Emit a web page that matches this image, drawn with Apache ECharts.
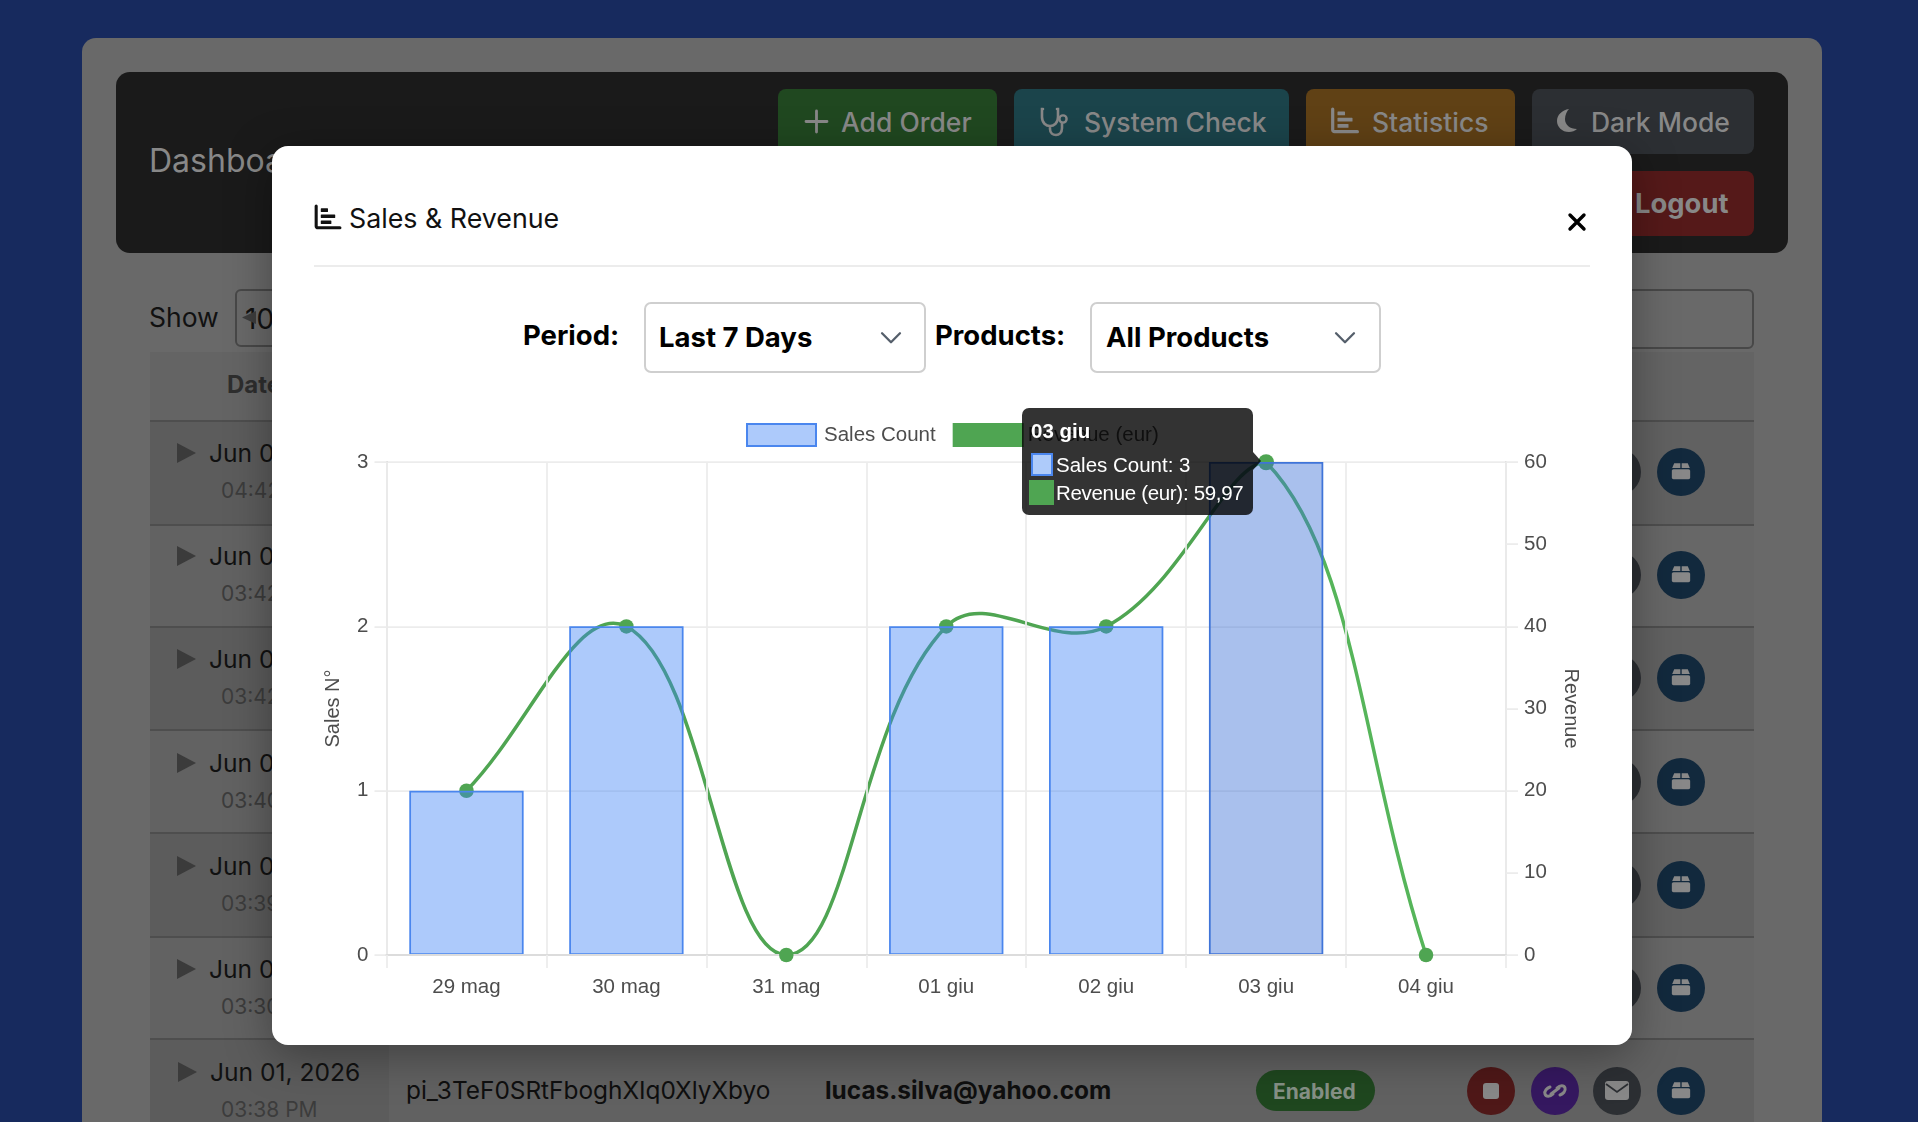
<!DOCTYPE html>
<html lang="en">
<head>
<meta charset="utf-8">
<title>Sales &amp; Revenue</title>
<script src="https://cdn.jsdelivr.net/npm/echarts@6/dist/echarts.min.js"></script>
<style>
  html, body { margin: 0; padding: 0; width: 1918px; height: 1122px; overflow: hidden; background: #172a5e; font-family: Inter, "Noto Sans", sans-serif; }
  .box { position: absolute; box-sizing: border-box; }
  .txt { position: absolute; white-space: nowrap; line-height: 1; transform: translateY(-50%); }
  svg.ic { position: absolute; overflow: visible; }
  #backdrop { position: absolute; inset: 0; overflow: hidden; }
  #modal { position: absolute; left: 272px; top: 146px; width: 1360px; height: 899px; background: #fff; border-radius: 16px; box-shadow: 0 10px 46px rgba(0,0,0,.35); }
  #layer { position: absolute; inset: 0; }
  #chart { position: absolute; left: 292px; top: 400px; width: 1320px; height: 640px; }
</style>
</head>
<body>
<div id="backdrop"></div>
<div id="modal"></div>
<div id="layer"></div>
<div id="chart"></div>
<script>
// Chart data
const categories = ['29 mag', '30 mag', '31 mag', '01 giu', '02 giu', '03 giu', '04 giu'];
const salesCount = [1, 2, 0, 2, 2, 3, 0];
const revenue = [19.99, 39.98, 0, 39.98, 39.98, 59.97, 0];
const hoveredIndex = 5;

// Table rows behind the dialog
const rowTimes = ['04:42 PM', '03:42 PM', '03:42 PM', '03:40 PM', '03:39 PM', '03:30 PM', '03:38 PM'];
const rowDates = ['Jun 01, 2026', 'Jun 01, 2026', 'Jun 01, 2026', 'Jun 01, 2026', 'Jun 01, 2026', 'Jun 01, 2026', 'Jun 01, 2026'];

const backdrop = document.getElementById('backdrop');
const layer = document.getElementById('layer');

function box(parent, x, y, w, h, bg, radius, border) {
  const d = document.createElement('div');
  d.className = 'box';
  d.style.cssText = `left:${x}px;top:${y}px;width:${w}px;height:${h}px;background:${bg};border-radius:${radius || 0}px;${border ? 'border:' + border + ';' : ''}`;
  parent.appendChild(d);
  return d;
}
function text(parent, x, cy, str, size, color, weight) {
  const d = document.createElement('div');
  d.className = 'txt';
  d.textContent = str;
  d.style.cssText = `left:${x}px;top:${cy}px;font-size:${size}px;color:${color};font-weight:${weight || 400};`;
  parent.appendChild(d);
  return d;
}
function icon(parent, x, y, w, h, vb, body) {
  const s = document.createElementNS('http://www.w3.org/2000/svg', 'svg');
  s.setAttribute('class', 'ic');
  s.setAttribute('viewBox', vb);
  s.style.cssText = `left:${x}px;top:${y}px;width:${w}px;height:${h}px;`;
  s.innerHTML = body;
  parent.appendChild(s);
}
const barsIcon = c => `<path d="M1.7 1v21a1.7 1.7 0 0 0 1.7 1.7h23" fill="none" stroke="${c}" stroke-width="3.2" stroke-linecap="round"/><rect x="6.5" y="3.5" width="7.5" height="3.8" rx=".6" fill="${c}"/><rect x="6.5" y="9.8" width="15" height="3.8" rx=".6" fill="${c}"/><rect x="6.5" y="16" width="11" height="3.8" rx=".6" fill="${c}"/>`;
const packageIcon = c => `<path d="M3 9 L6 2 H15 V9 Z M17 2 H26 L29 9 H17 Z" fill="${c}"/><rect x="2.5" y="10.5" width="27" height="15" rx="2.5" fill="${c}"/>`;
const chevron = c => `<path d="M1 1 L9.5 9.5 L18 1" fill="none" stroke="${c}" stroke-width="2.2" stroke-linecap="round" stroke-linejoin="round"/>`;

// Dimmed dashboard
const dimText = '#888888';
box(backdrop, 82, 38, 1740, 1200, '#696969', 14);
box(backdrop, 116, 72, 1672, 181, '#1a1a1a', 14);
text(backdrop, 149, 161, 'Dashboard', 32, dimText);

const buttons = [
  [778, 219, '#204820', 'Add Order', 841],
  [1014, 275, '#1b444b', 'System Check', 1084],
  [1306, 209, '#604115', 'Statistics', 1372],
  [1532, 222, '#2c2f33', 'Dark Mode', 1591]
];
buttons.forEach(b => {
  box(backdrop, b[0], 89, b[1], 65, b[2], 8);
  text(backdrop, b[4], 122, b[3], 26.5, dimText, 500);
});
icon(backdrop, 804, 109, 25, 25, '0 0 25 25', `<path d="M12.5 2V23M2 12.5H23" stroke="${dimText}" stroke-width="2.8" stroke-linecap="round"/>`);
icon(backdrop, 1040, 106, 30, 31, '0 0 30 31', `<path d="M3 3H2V11C2 17 6 20 10 20S18 17 18 11V3H17M10 20V23C10 27 13 29 16 29S22 27 22 22V17" fill="none" stroke="${dimText}" stroke-width="2.6" stroke-linecap="round"/><circle cx="23" cy="13" r="3.6" fill="none" stroke="${dimText}" stroke-width="2.4"/>`);
icon(backdrop, 1331, 108, 28, 26, '0 0 28 26', barsIcon(dimText));
icon(backdrop, 1556, 108, 24, 25, '0 0 24 25', `<path d="M13 1C6 2 1 7 1 13s5 11 12 11c3 0 6-1 8-3C14 21 9 17 9 11c0-4 2-8 4-10Z" fill="${dimText}"/>`);
box(backdrop, 1500, 171, 254, 65, '#551919', 8);
text(backdrop, 1635, 204, 'Logout', 27.4, dimText, 700);

// Table controls
text(backdrop, 149, 317, 'Show', 26.5, '#111');
box(backdrop, 235, 289, 120, 58, 'transparent', 6, '2px solid #484848');
text(backdrop, 245, 319, '10', 28, '#111');
icon(backdrop, 242, 311, 14, 13, '0 0 14 13', '<path d="M0 6.5L14 0V13Z" fill="#3d3d3d"/>');
box(backdrop, 1500, 289, 254, 60, 'transparent', 6, '2px solid #484848');

// Table body
const rowTops = [421, 525, 627, 730, 833, 937, 1039, 1122];
const dateCy = [453, 556, 659, 763, 866, 969, 1072];
const actionCy = [472, 575, 678, 782, 885, 988, 1091];
box(backdrop, 150, 352, 1604, 69, '#646464');
text(backdrop, 227, 385, 'Date', 24, '#2e2e2e', 700);
rowTimes.forEach((time, i) => {
  const top = rowTops[i], h = rowTops[i + 1] - top;
  box(backdrop, 150, top, 1604, h, i % 2 === 0 ? '#616161' : '#676767');
  box(backdrop, 150, top, 239, h, i % 2 === 0 ? '#5c5c5c' : '#626262');
  box(backdrop, 150, top - 1, 1604, 2, '#4e4e4e');
  const shift = i === 6 ? 1 : 0;
  icon(backdrop, 177 + shift, dateCy[i] - 10, 19, 20, '0 0 19 20', '<path d="M0 0L19 10L0 20Z" fill="#3b3b3b"/>');
  text(backdrop, 209 + shift, dateCy[i], rowDates[i], 24.6, '#111');
  text(backdrop, 221, dateCy[i] + 37, time, 21, '#3c3c3c');
  box(backdrop, 1593, actionCy[i] - 24, 48, 48, '#2c2f33', 24);
  box(backdrop, 1657, actionCy[i] - 24, 48, 48, '#12293d', 24);
  icon(backdrop, 1670, actionCy[i] - 10, 22, 19, '0 0 32 28', packageIcon(dimText));
});
text(backdrop, 406, 1090, 'pi_3TeF0SRtFboghXIq0XlyXbyo', 24.4, '#0f0f0f');
text(backdrop, 825, 1090, 'lucas.silva@yahoo.com', 24.4, '#0f0f0f', 700);
box(backdrop, 1256, 1070, 119, 41, '#1f471f', 21);
text(backdrop, 1273, 1091, 'Enabled', 21, '#869186', 700);
box(backdrop, 1467, 1067, 48, 48, '#4f1818', 24);
box(backdrop, 1531, 1067, 48, 48, '#351860', 24);
icon(backdrop, 1482, 1082, 18, 18, '0 0 18 18', `<rect x="1" y="1" width="16" height="16" rx="3" fill="${dimText}"/>`);
icon(backdrop, 1543, 1080, 24, 22, '0 0 24 22', `<path d="M10 14C7 17 3 17 2 14S4 8 7 7M14 8C17 5 21 5 22 8S20 14 17 15M8 14L16 8" fill="none" stroke="${dimText}" stroke-width="3" stroke-linecap="round"/>`);
icon(backdrop, 1605, 1081, 24, 19, '0 0 24 19', `<rect width="24" height="19" rx="3" fill="${dimText}"/><path d="M1 3L12 11L23 3" fill="none" stroke="#2c2f33" stroke-width="1.8"/>`);

// Dialog header and filters
icon(layer, 314, 205, 28, 25, '0 0 28 26', barsIcon('#111'));
text(layer, 349, 218, 'Sales & Revenue', 26.8, '#111');
icon(layer, 1568, 213, 18, 18, '0 0 18 18', '<path d="M2 2L16 16M16 2L2 16" stroke="#000" stroke-width="3.4" stroke-linecap="round"/>');
box(layer, 314, 265, 1276, 2, '#ececec');
text(layer, 523, 336, 'Period:', 27.5, '#000', 700);
box(layer, 644, 302, 282, 71, '#fff', 7, '2.5px solid #cfcfcf');
text(layer, 659, 338, 'Last 7 Days', 27.5, '#000', 700);
icon(layer, 881, 332, 20, 12, '0 0 19 11', chevron('#555f6b'));
text(layer, 935, 336, 'Products:', 27.5, '#000', 700);
box(layer, 1090, 302, 291, 71, '#fff', 7, '2.5px solid #cfcfcf');
text(layer, 1106, 338, 'All Products', 27.5, '#000', 700);
icon(layer, 1335, 332, 20, 12, '0 0 19 11', chevron('#555f6b'));

// Colours of the chart
const barFill = 'rgba(60,128,246,0.42)';
const barFillHover = 'rgba(56,108,214,0.43)';
const barStroke = '#4a86ee';
const barStrokeHover = '#3f74d8';
const lineColor = '#4fa552';
const gridColor = '#ececec';
const axisColor = '#dcdcdc';
const labelColor = '#4d4d4d';
const chartFont = "'Liberation Sans', Helvetica, Arial, sans-serif";
const labelSize = 20.5;

// Cardinal spline through the revenue points, with control points held inside the plot area
const tension = 0.4;
function controlPoints(prev, cur, next, area) {
  const d01 = Math.hypot(cur[0] - prev[0], cur[1] - prev[1]);
  const d12 = Math.hypot(next[0] - cur[0], next[1] - cur[1]);
  const sum = d01 + d12;
  const fa = sum ? tension * d01 / sum : 0;
  const fb = sum ? tension * d12 / sum : 0;
  const clampX = v => Math.min(area.x + area.width, Math.max(area.x, v));
  const clampY = v => Math.min(area.y + area.height, Math.max(area.y, v));
  return {
    before: [clampX(cur[0] - fa * (next[0] - prev[0])), clampY(cur[1] - fa * (next[1] - prev[1]))],
    after: [clampX(cur[0] + fb * (next[0] - prev[0])), clampY(cur[1] + fb * (next[1] - prev[1]))]
  };
}
function renderCurveSegment(params, api) {
  const i = params.dataIndex;
  if (i >= revenue.length - 1) return null;
  const pts = revenue.map((v, k) => api.coord([k, v]));
  const at = k => pts[Math.max(0, Math.min(pts.length - 1, k))];
  const a = controlPoints(at(i - 1), at(i), at(i + 1), params.coordSys);
  const b = controlPoints(at(i), at(i + 1), at(i + 2), params.coordSys);
  return {
    type: 'bezierCurve',
    shape: {
      x1: at(i)[0], y1: at(i)[1],
      cpx1: a.after[0], cpy1: a.after[1],
      cpx2: b.before[0], cpy2: b.before[1],
      x2: at(i + 1)[0], y2: at(i + 1)[1]
    },
    style: { stroke: lineColor, lineWidth: 3.5, fill: 'none' }
  };
}

const formatValue = v => String(v).replace('.', ',');
function tooltipHtml(params) {
  const i = params[0].dataIndex;
  const row = (fill, stroke, label, val, w, h, gap, spacing) =>
    `<div style="display:flex;align-items:center;height:28px;">` +
    `<span style="flex:none;box-sizing:border-box;width:${w}px;height:${h}px;margin-right:${gap}px;background:${fill};border:2px solid ${stroke};"></span>` +
    `<span style="position:relative;top:1px;letter-spacing:${spacing}px;">${label}: ${val}</span></div>`;
  return `<div style="position:relative;box-sizing:border-box;width:231px;height:107px;padding:10px 8px 0 9px;background:rgba(0,0,0,0.8);border-radius:7px;color:#fff;font-family:${chartFont};font-size:20.5px;line-height:1.1;white-space:nowrap;">` +
    `<div style="font-weight:700;height:32px;line-height:26px;">${categories[i]}</div>` +
    row('#aecbfa', '#4a86ee', 'Sales Count', formatValue(salesCount[i]), 22, 23, 3, 0) +
    `<div style="margin-left:-2px;">` + row(lineColor, lineColor, 'Revenue (eur)', formatValue(revenue[i]), 25, 25, 2, -0.32) + `</div>` +
    `<span style="position:absolute;left:231px;top:44px;width:0;height:0;border-left:8px solid rgba(0,0,0,0.8);border-top:9px solid transparent;border-bottom:9px solid transparent;"></span>` +
    `</div>`;
}

const chart = echarts.init(document.getElementById('chart'), null, { renderer: 'canvas' });
chart.setOption({
  animation: false,
  backgroundColor: 'transparent',
  textStyle: { fontFamily: chartFont },
  grid: { left: 94.5, top: 62, width: 1119.5, height: 493, containLabel: false },
  legend: {
    left: 449,
    top: 18,
    itemWidth: 69,
    itemHeight: 22,
    itemGap: 17,
    selectedMode: false,
    textStyle: { fontFamily: chartFont, fontSize: labelSize, color: labelColor, padding: [2, 0, 0, 3] },
    data: [
      { name: 'Sales Count', icon: 'rect', itemStyle: { color: barFill, borderColor: barStroke, borderWidth: 2 } },
      { name: 'Revenue (eur)', icon: 'rect', itemStyle: { color: lineColor, borderColor: lineColor, borderWidth: 2 }, textStyle: { padding: [2, 0, 0, 0] } }
    ]
  },
  tooltip: {
    trigger: 'axis',
    alwaysShowContent: true,
    axisPointer: { type: 'none' },
    transitionDuration: 0,
    showDelay: 0,
    hideDelay: 0,
    backgroundColor: 'transparent',
    borderWidth: 0,
    padding: 0,
    extraCssText: 'box-shadow:none;',
    confine: false,
    position: [730, 8],
    formatter: tooltipHtml
  },
  xAxis: {
    type: 'category',
    data: categories,
    boundaryGap: true,
    z: 10,
    axisLine: { show: true, lineStyle: { color: axisColor, width: 2 } },
    axisTick: { show: true, length: 13, lineStyle: { color: gridColor, width: 1.75 } },
    splitLine: { show: true, lineStyle: { color: gridColor, width: 1.75 } },
    axisLabel: { color: labelColor, fontSize: labelSize, margin: 21.5, fontFamily: chartFont }
  },
  yAxis: [
    {
      type: 'value',
      min: 0,
      max: 3,
      interval: 1,
      name: 'Sales N°',
      nameLocation: 'middle',
      nameGap: 43.5,
      nameRotate: 90,
      nameTextStyle: { color: labelColor, fontSize: 20, fontFamily: chartFont },
      axisLine: { show: true, lineStyle: { color: axisColor, width: 2 } },
      axisTick: { show: true, length: 12, lineStyle: { color: gridColor, width: 1.75 } },
      splitLine: { show: true, lineStyle: { color: gridColor, width: 1.75 } },
      axisLabel: { color: labelColor, fontSize: labelSize, margin: 18, fontFamily: chartFont }
    },
    {
      type: 'value',
      position: 'right',
      min: 0,
      max: 60,
      interval: 10,
      name: 'Revenue',
      nameLocation: 'middle',
      nameGap: 55,
      nameRotate: -90,
      nameTextStyle: { color: labelColor, fontSize: 20, fontFamily: chartFont },
      axisLine: { show: true, lineStyle: { color: axisColor, width: 2 } },
      axisTick: { show: true, length: 12, lineStyle: { color: gridColor, width: 1.75 } },
      splitLine: { show: false },
      axisLabel: { color: labelColor, fontSize: labelSize, margin: 18, fontFamily: chartFont }
    }
  ],
  series: [
    {
      name: 'Sales Count',
      type: 'bar',
      yAxisIndex: 0,
      z: 4,
      barWidth: '71.5%',
      emphasis: { disabled: true },
      itemStyle: { color: barFill, borderColor: barStroke, borderWidth: 1.75 },
      data: salesCount.map((v, i) => i === hoveredIndex
        ? { value: v, itemStyle: { color: barFillHover, borderColor: barStrokeHover, borderWidth: 1.75 } }
        : v)
    },
    {
      name: 'Revenue curve',
      type: 'custom',
      yAxisIndex: 1,
      z: 2,
      clip: false,
      silent: true,
      encode: { x: 0, y: 1 },
      renderItem: renderCurveSegment,
      data: revenue.map((v, i) => [i, v])
    },
    {
      name: 'Revenue (eur)',
      type: 'line',
      yAxisIndex: 1,
      z: 3,
      clip: false,
      symbol: 'circle',
      symbolSize: 14.5,
      showAllSymbol: true,
      emphasis: { disabled: true },
      lineStyle: { opacity: 0 },
      itemStyle: { color: lineColor },
      data: revenue.map((v, i) => salesCount[i] > 0 ? v : null)
    },
    {
      name: 'Revenue without sales',
      type: 'line',
      yAxisIndex: 1,
      z: 12,
      clip: false,
      symbol: 'circle',
      symbolSize: 14.5,
      showAllSymbol: true,
      emphasis: { disabled: true },
      lineStyle: { opacity: 0 },
      itemStyle: { color: lineColor },
      data: revenue.map((v, i) => salesCount[i] === 0 ? v : null)
    }
  ]
});
chart.dispatchAction({ type: 'showTip', seriesIndex: 0, dataIndex: hoveredIndex });
</script>
</body>
</html>
